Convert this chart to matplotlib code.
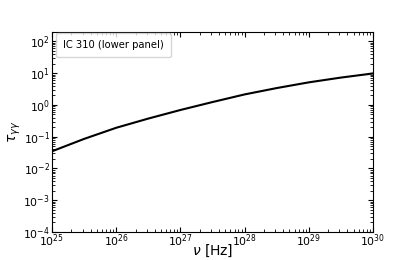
import matplotlib
matplotlib.use("Agg")
import matplotlib.pyplot as plt
from matplotlib.lines import Line2D

# values (log10 of frequency and of optical depth)
log_nu = [25.0, 25.5, 26.0, 26.5, 27.0, 27.5, 28.0, 28.5, 29.0, 29.5, 30.0]
log_tau = [-1.46, -1.07, -0.72, -0.43, -0.16, 0.09, 0.33, 0.53, 0.71, 0.86, 0.99]

nu = [10 ** k for k in log_nu]
tau = [10 ** k for k in log_tau]


def main():
    '''Main'''
    fig = plt.figure(figsize=(4.15, 2.6), dpi=100)
    ax = fig.add_axes([0.1253, 0.1077, 0.7735, 0.770])

    ax.plot(nu, tau, color="black", lw=1.5)
    ax.set_xscale("log")
    ax.set_yscale("log")
    ax.set_xlim(1e25, 1e30)
    ax.set_ylim(1e-4, 200)

    ax.tick_params(which="both", direction="in", top=True, right=True,
                   labelsize=7.8)
    ax.tick_params(axis="x", which="major", pad=0)
    ax.tick_params(axis="y", which="major", pad=1.5)
    ax.tick_params(which="major", length=3.5)
    ax.tick_params(which="minor", length=2)

    ax.set_xlabel(r"$\nu$ [Hz]", fontsize=10, labelpad=-4.5)
    ax.set_ylabel(r"$\tau_{\gamma\gamma}$", fontsize=10, labelpad=0)

    blank = Line2D([], [], color="none")
    ax.legend([blank], ["IC 310 (lower panel)"], loc="upper left",
              bbox_to_anchor=(0.012, 0.993), borderaxespad=0,
              handlelength=0, handletextpad=0, fontsize=7.2,
              borderpad=0.7)

    fig.savefig("out.png", dpi=100)


if __name__ == "__main__":
    main()
